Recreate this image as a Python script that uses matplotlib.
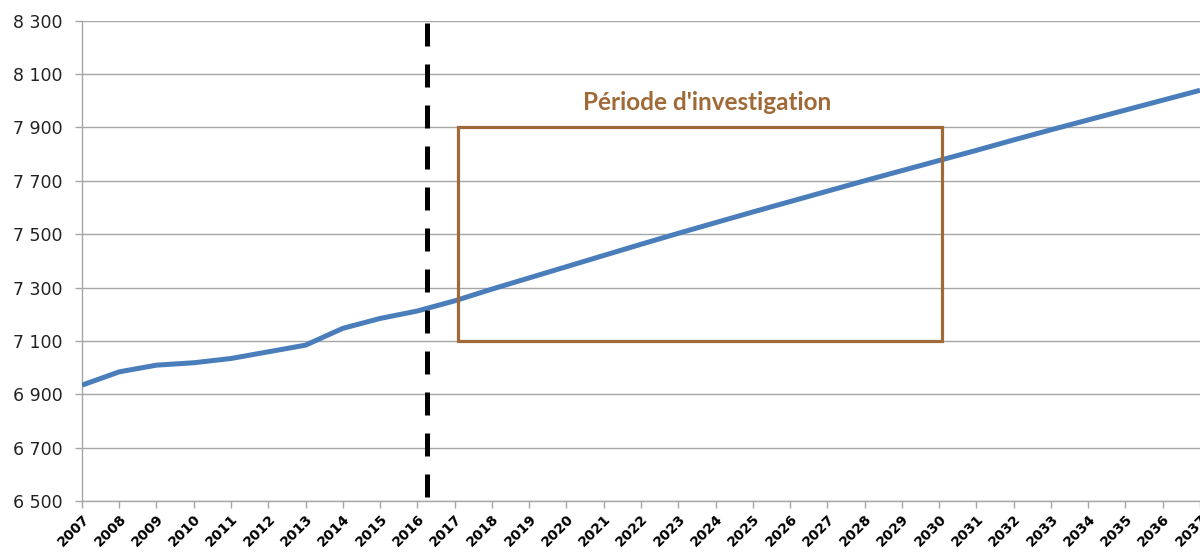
import numpy as np
import matplotlib
matplotlib.use("Agg")
import matplotlib.pyplot as plt
from matplotlib.patches import Rectangle
from matplotlib.ticker import FuncFormatter

years = list(range(2007, 2038))
values = [6934, 6984, 7009, 7018, 7034, 7059, 7084, 7147, 7184, 7212,
          7250, 7294, 7336, 7378, 7420, 7462, 7503, 7543, 7583, 7622,
          7661, 7700, 7738, 7776, 7814, 7853, 7891, 7928, 7965, 8002, 8039]

split_year = 2016.26
period_start = 2017.09
period_end = 2030.09
period_low = 7100
period_high = 7900
period_label = "Période d'investigation"

blue = '#4A7EBB'
brown = '#9F6A37'
grey = '#A6A6A6'

fig = plt.figure(figsize=(12, 5.54), dpi=100)
ax = fig.add_axes([0.0683, 0.0957, 0.9317, 0.867])

ax.plot(years, values, color=blue, lw=3.6, solid_capstyle='butt', zorder=3)

# vertical dashed separator
ax.plot([split_year, split_year], [8290, 6510], color='black', lw=3.6,
        linestyle=(0, (4.6, 3.6)), zorder=4)

rect = Rectangle((period_start, period_low), period_end - period_start,
                 period_high - period_low, fill=False, edgecolor=brown,
                 lw=2.3, zorder=5)
ax.add_patch(rect)
ax.text((period_start + period_end) / 2 + 0.18, 7995, period_label,
        color=brown, fontsize=17.5, fontweight='bold', family='Lato',
        ha='center', va='center')

ax.set_xlim(2007, 2037)
ax.set_ylim(6500, 8300)
ax.set_yticks(np.arange(6500, 8301, 200))
ax.set_xticks(years)
ax.yaxis.set_major_formatter(FuncFormatter(lambda v, p: f"{int(v):,}".replace(",", " ")))
ax.set_xticklabels([str(y) for y in years], rotation=45, ha='right', va='top',
                   rotation_mode='anchor', fontsize=10, fontweight='bold')
for t in ax.get_yticklabels():
    t.set_fontsize(12.5)
    t.set_color('#222222')

ax.grid(axis='y', color=grey, lw=1)
ax.set_axisbelow(True)
for s in ['top', 'right']:
    ax.spines[s].set_visible(False)
for s in ['left', 'bottom']:
    ax.spines[s].set_color(grey)
    ax.spines[s].set_linewidth(1)
ax.tick_params(axis='both', color=grey, length=5, width=1)
ax.tick_params(axis='y', pad=9)
ax.tick_params(axis='x', pad=3)

fig.savefig('out.png', dpi=100)
